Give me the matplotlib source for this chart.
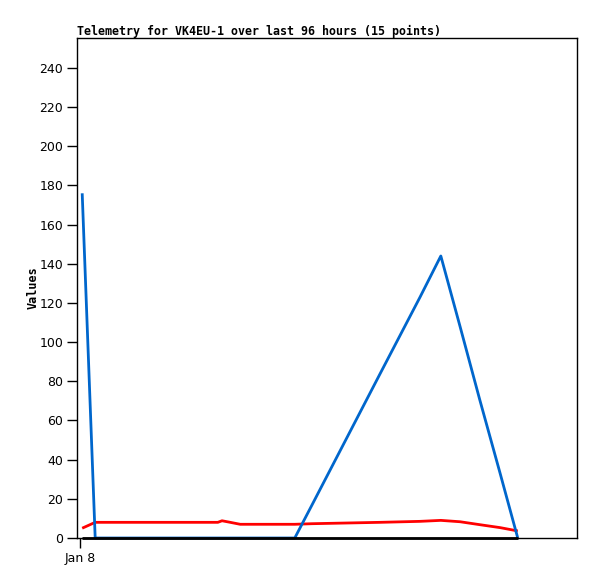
import matplotlib
matplotlib.use("Agg")
import matplotlib.pyplot as plt

# hours since Jan 8 00:00
hours = [0.4, 2.9, 26.5, 27.3, 28.5, 30.8, 41.3, 44.6, 57.7, 65.4, 69.4, 73.1, 76.9, 80.8, 84.2]
series_blue = [176, 0, 0, 0, 0, 0, 0, 16.8, 83.8, 123, 144, 108, 70.5, 33.1, 0]
series_red = [5, 8, 8, 8.8, 8.2, 7, 7, 7.3, 8, 8.5, 9, 8.3, 6.8, 5.3, 3.6]
series_black = [0] * 15
yticks = list(range(0, 241, 20))
xtick_pos = [0]
xtick_labels = ["Jan 8"]

fig = plt.figure(figsize=(5.97, 5.79), dpi=100)
ax = fig.add_axes([77/597, 41/579, 500/597, 500/579])

ax.plot(hours, series_red, color="#ff0000", lw=2, solid_capstyle="butt", clip_on=False)
ax.plot(hours, series_blue, color="#0066cc", lw=2, solid_capstyle="butt", clip_on=False)
ax.plot(hours, series_black, color="#000000", lw=2, solid_capstyle="butt", clip_on=False)

ax.set_xlim(-0.6, 95.6)
ax.set_ylim(0, 255.3)
ax.set_yticks(yticks)
ax.set_xticks(xtick_pos)
ax.set_xticklabels(xtick_labels)
ax.tick_params(direction="out", length=7, width=1, labelsize=9, pad=3)
for s in ax.spines.values():
    s.set_linewidth(1)

ax.set_ylabel("Values", family="DejaVu Sans Mono", fontweight="bold", fontsize=8.5, labelpad=0)
fig.text(77/597, 1 - 35/579, "Telemetry for VK4EU-1 over last 96 hours (15 points)",
         family="DejaVu Sans Mono", fontweight="bold", fontsize=8.4, ha="left", va="baseline")

fig.savefig("out.png", dpi=100)
